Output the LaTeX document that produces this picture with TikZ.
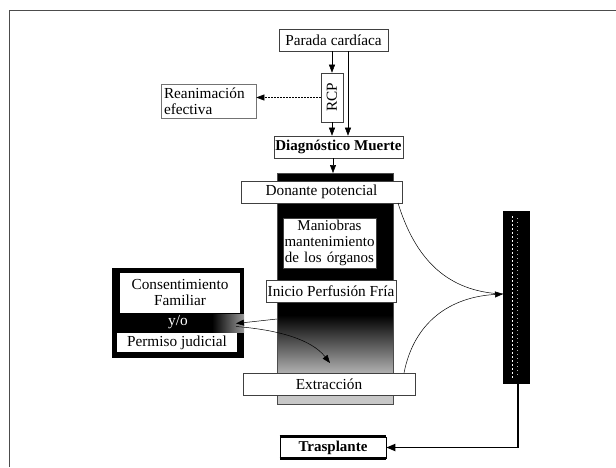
\documentclass[tikz,border=0pt]{standalone}
\usepackage{fontspec}
\setmainfont{Liberation Serif}
\usetikzlibrary{arrows.meta}
\begin{document}
\begin{tikzpicture}[x=1pt,y=-1pt,
  every node/.style={font=\fontsize{15.3}{16}\selectfont},
  box/.style={draw=black!75, fill=white, line width=0.6pt, inner sep=1pt, align=center},
  arr/.style={-{Triangle[length=8pt,width=6pt]}, line width=0.5pt},
  frame/.style={draw=black!70, line width=1.4pt}]
\useasboundingbox (0,0) rectangle (616,467);
% outer frame (open to right and bottom)
\draw[frame] (9.5,467) -- (9.5,10.5) -- (616,10.5);

% dark column
\fill[black] (277,173) rectangle (393,316);
\shade[top color=black, bottom color=black!25] (277,315) rectangle (393,378);
\fill[black!22] (277,377) rectangle (393,404);
\draw[black!70, line width=0.5pt] (277,173) rectangle (393,404);

% left consent block
\fill[black] (112,268) rectangle (244,358);
\shade[left color=black, right color=black!40] (212,314) rectangle (244,332);

% right bar
\fill[black] (503,211) rectangle (530,384);
\draw[white, line width=1pt, dash pattern=on 1.5pt off 2.5pt] (512,216) -- (512,380);
\draw[white!70!black, line width=0.6pt, dash pattern=on 1pt off 3pt] (517,218) -- (517,378);

% nodes
\node[box, minimum width=109, minimum height=22] (parada) at (333.5,40) {Parada cardíaca};
\node[box, minimum width=22, minimum height=49, inner sep=0pt] (rcp) at (332,97.5) {\rotatebox{90}{RCP}};
\node[box, draw=black!55, minimum width=95, minimum height=34, text width=89, align=left, inner sep=0pt] (rean) at (208.5,101) {\fontsize{15.3}{15.5}\selectfont Reanimación\\efectiva};
\node[box, minimum width=129, minimum height=22, font=\fontsize{15}{16}\selectfont\bfseries] (diag) at (338.5,147) {Diagnóstico Muerte};
\node[box, minimum width=161, minimum height=22] (donante) at (321.5,192) {Donante potencial};
\node[box, minimum width=93, minimum height=50, text width=93, inner sep=0pt] (maniobras) at (329.5,243) {\fontsize{15}{15.5}\selectfont Maniobras\\mantenimiento\\de los órganos};
\node[box, minimum width=130, minimum height=22] (inicio) at (331,291) {Inicio Perfusión Fría};
\node[box, minimum width=172, minimum height=22] (extr) at (329,384) {Extracción};
\node[box, draw=none, minimum width=120, minimum height=40, text width=118] (consent) at (180,293) {\fontsize{15.3}{16.5}\selectfont Consentimiento\\Familiar};
\node[text=white, inner sep=0pt] (yo) at (178,322.5) {y/o};
\node[box, draw=none, minimum width=120, minimum height=19] (permiso) at (177,342.5) {Permiso judicial};
\node[box, draw=black, line width=0.6pt, minimum width=106, minimum height=21, font=\fontsize{15}{16}\selectfont\bfseries] (trasp) at (333,447.5) {Trasplante};
\draw[black, line width=3pt] (trasp.north west) -- (trasp.north east);
\draw[black, line width=3pt] (trasp.south west) -- (trasp.south east);

% helper coordinates
\coordinate (pR) at (348,0);
\coordinate (colL1) at (277,319);
\coordinate (yoR1) at (236,323.5);
\coordinate (yoR2) at (236,326.5);
\coordinate (extrT) at (330,363);
\coordinate (donR) at (398,203);
\coordinate (extrR) at (404,373);
\coordinate (barL) at (503,294);
\coordinate (barB) at (518,384);
\coordinate (colT) at (333,173);

% connectors
\draw[arr] (parada.south -| rcp) -- (rcp.north);
\draw[arr] (parada.south -| pR) -- (diag.north -| pR);
\draw[arr, densely dotted] (rcp.west) -- (rcp.west -| rean.east);
\draw[arr] (rcp.south) -- (diag.north -| rcp);
\draw[arr] (diag.south -| colT) -- (colT);
\draw[arr] (colL1) -- (yoR1);
\draw[arr] (yoR2) .. controls (280,330) and (312,340) .. (extrT);
\draw[line width=0.5pt] (donR) .. controls (418,268) and (455,292) .. (barL);
\draw[arr] (extrR) .. controls (414,322) and (450,297) .. (barL);
\draw[-{Triangle[length=9pt,width=7pt]}, line width=1.8pt] (barB) |- (trasp.east);
\end{tikzpicture}
\end{document}
